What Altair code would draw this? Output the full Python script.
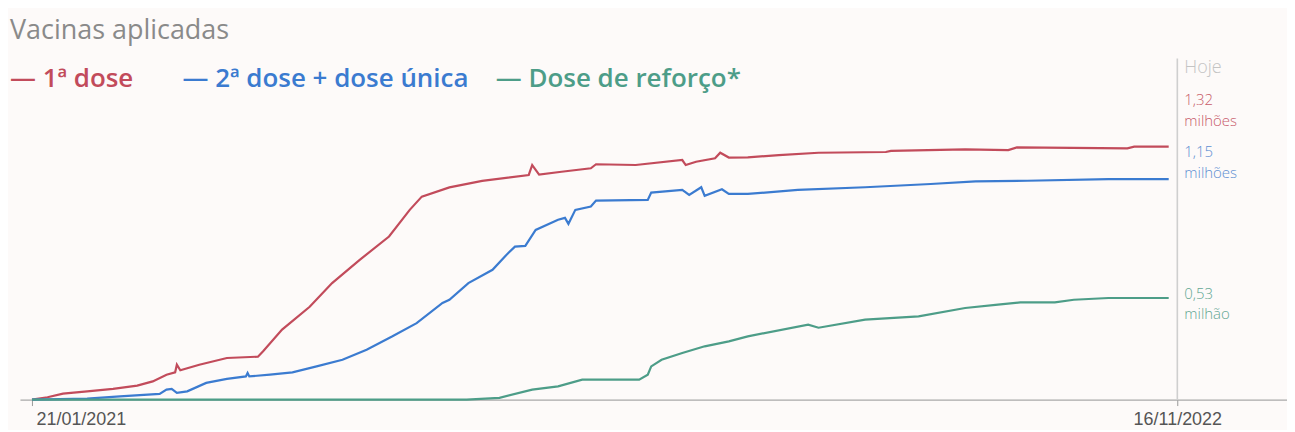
import altair as alt
import pandas as pd

# ---------------- data (values in millions) ----------------
red_dates = ["2021-01-21", "2021-01-30", "2021-02-08", "2021-02-22", "2021-03-09", "2021-03-23",
             "2021-04-01", "2021-04-09", "2021-04-14", "2021-04-15", "2021-04-17", "2021-04-28",
             "2021-05-14", "2021-06-01", "2021-06-04", "2021-06-15", "2021-07-01", "2021-07-14",
             "2021-07-30", "2021-08-16", "2021-08-28", "2021-09-04", "2021-09-20", "2021-10-09",
             "2021-11-05", "2021-11-07", "2021-11-11", "2021-11-24", "2021-12-11", "2021-12-14",
             "2022-01-06", "2022-02-02", "2022-02-04", "2022-02-10", "2022-02-21", "2022-02-24",
             "2022-03-01", "2022-03-12", "2022-03-30", "2022-04-22", "2022-05-31", "2022-06-03",
             "2022-07-16", "2022-08-10", "2022-08-15", "2022-10-18", "2022-10-22", "2022-11-11"]
red_vals = [0.000, 0.012, 0.031, 0.043, 0.056, 0.073,
            0.095, 0.130, 0.142, 0.182, 0.153, 0.182,
            0.217, 0.224, 0.252, 0.365, 0.484, 0.608,
            0.729, 0.851, 0.990, 1.059, 1.107, 1.141,
            1.172, 1.224, 1.174, 1.189, 1.207, 1.228,
            1.224, 1.250, 1.224, 1.241, 1.259, 1.288,
            1.263, 1.264, 1.276, 1.288, 1.292, 1.298,
            1.306, 1.302, 1.316, 1.311, 1.320, 1.320]

blue_dates = ["2021-01-21", "2021-02-22", "2021-03-13", "2021-04-05", "2021-04-09", "2021-04-12",
              "2021-04-15", "2021-04-21", "2021-05-02", "2021-05-14", "2021-05-25", "2021-05-26",
              "2021-05-27", "2021-06-08", "2021-06-21", "2021-07-05", "2021-07-20", "2021-08-03",
              "2021-08-18", "2021-09-01", "2021-09-16", "2021-09-20", "2021-10-01", "2021-10-15",
              "2021-10-24", "2021-10-28", "2021-11-03", "2021-11-09", "2021-11-22", "2021-11-26",
              "2021-11-28", "2021-12-02", "2021-12-11", "2021-12-14", "2022-01-13", "2022-01-15",
              "2022-02-02", "2022-02-06", "2022-02-13", "2022-02-15", "2022-02-25", "2022-03-01",
              "2022-03-12", "2022-04-10", "2022-05-19", "2022-06-26", "2022-07-22", "2022-08-21",
              "2022-10-07", "2022-11-11"]
blue_vals = [0.000, 0.005, 0.017, 0.030, 0.052, 0.056,
             0.035, 0.043, 0.087, 0.108, 0.121, 0.139,
             0.121, 0.130, 0.142, 0.173, 0.208, 0.260,
             0.330, 0.399, 0.504, 0.521, 0.608, 0.677,
             0.764, 0.798, 0.802, 0.885, 0.938, 0.948,
             0.917, 0.990, 1.007, 1.038, 1.042, 1.080,
             1.094, 1.068, 1.108, 1.063, 1.097, 1.073,
             1.073, 1.094, 1.108, 1.125, 1.139, 1.142,
             1.150, 1.150]

green_dates = ["2021-01-21", "2021-09-30", "2021-10-19", "2021-11-07", "2021-11-22", "2021-12-06",
               "2022-01-08", "2022-01-13", "2022-01-15", "2022-01-21", "2022-02-02", "2022-02-15",
               "2022-03-01", "2022-03-12", "2022-04-16", "2022-04-22", "2022-05-19", "2022-06-19",
               "2022-07-16", "2022-08-04", "2022-08-17", "2022-09-06", "2022-09-17", "2022-10-07",
               "2022-11-11"]
green_vals = [0.000, 0.000, 0.009, 0.052, 0.069, 0.104,
              0.104, 0.130, 0.173, 0.208, 0.243, 0.278,
              0.304, 0.330, 0.391, 0.375, 0.417, 0.434,
              0.478, 0.495, 0.507, 0.507, 0.521, 0.530,
              0.530]

series_names = ["1ª dose", "2ª dose + dose única", "Dose de reforço*"]
unit_names = ["milhões", "milhões", "milhão"]
line_colors = ["#c24b5b", "#3b7bd0", "#4d9d88"]
label_colors = ["#c85a6a", "#5d8fd2", "#63a793"]
tick_dates = ["2021-01-21", "2022-11-16"]
hoje_date = "2022-11-16"

# ---------------- layout ----------------
W, H = 1270, 340
YMAX = 1.77
FONT = "Open Sans"

rows = []
for name, ds, vs in zip(series_names, [red_dates, blue_dates, green_dates],
                        [red_vals, blue_vals, green_vals]):
    for d, v in zip(ds, vs):
        rows.append({"date": d, "value": v, "serie": name})
df = pd.DataFrame(rows)

xscale = alt.Scale(type="utc",
                   domain=[alt.DateTime(year=2021, month=1, date=14, hours=1, utc=True),
                           alt.DateTime(year=2023, month=1, date=18, hours=14, utc=True)])
yscale = alt.Scale(domain=[0, YMAX], nice=False, zero=True)

tick_vals = [alt.DateTime(year=int(t[:4]), month=int(t[5:7]), date=int(t[8:]), utc=True) for t in tick_dates]

lines = alt.Chart(df).mark_line(strokeWidth=2.2, interpolate="linear").encode(
    x=alt.X("date:T", scale=xscale,
            axis=alt.Axis(values=tick_vals, labelExpr="utcFormat(datum.value, '%d/%m/%Y')",
                          title=None, grid=False, domainColor="#a8a8a8", domainWidth=1.2,
                          tickColor="#999999", tickSize=6, labelColor="#555555",
                          labelFont="Liberation Sans", labelFontSize=18, labelPadding=5,
                          labelFlush=20, labelFlushOffset=-4)),
    y=alt.Y("value:Q", scale=yscale, axis=None),
    color=alt.Color("serie:N", scale=alt.Scale(domain=series_names, range=line_colors), legend=None),
    order=alt.Order("date:T"),
)

hoje_df = pd.DataFrame({"date": [hoje_date], "txt": ["Hoje"]})
rule = alt.Chart(hoje_df).mark_rule(color="#cfcfcf", strokeWidth=1.6).encode(
    x=alt.X("date:T", scale=xscale), y=alt.value(-2), y2=alt.value(H))
hoje_txt = alt.Chart(hoje_df).mark_text(align="left", baseline="middle", dx=7, font=FONT,
                                         fontSize=18, fontWeight=300, color="#c4c4c4").encode(
    x=alt.X("date:T", scale=xscale), y=alt.value(8), text="txt:N")

layers = [rule, lines, hoje_txt]

# end labels (two-line text: number + unit)
end_vals = [red_vals[-1], blue_vals[-1], green_vals[-1]]
label_top = [33, 85, 227]
for v, unit, col, ly in zip(end_vals, unit_names, label_colors, label_top):
    ldf = pd.DataFrame({"date": [hoje_date],
                        "lbl": [f"{v:.2f}".replace(".", ",") + "\n" + unit]})
    layers.append(alt.Chart(ldf).mark_text(align="left", baseline="top", dx=7, font=FONT,
                                           fontSize=15, fontWeight=300, color=col,
                                           lineBreak="\n", lineHeight=20.5).encode(
        x=alt.X("date:T", scale=xscale), y=alt.value(ly), text="lbl:N"))

# title and legend text
title_df = pd.DataFrame({"t": ["Vacinas aplicadas"]})
layers.append(alt.Chart(title_df).mark_text(align="left", baseline="alphabetic", font=FONT,
                                            fontSize=27, color="#8a8a8a").encode(
    x=alt.value(-10), y=alt.value(-21), text="t:N"))

leg_x = [-10, 163, 477]
for name, col, lx in zip(series_names, line_colors, leg_x):
    ldf = pd.DataFrame({"t": ["— " + name]})
    layers.append(alt.Chart(ldf).mark_text(align="left", baseline="alphabetic", font=FONT,
                                           fontSize=26, fontWeight=600, color=col).encode(
        x=alt.value(lx), y=alt.value(27), text="t:N"))

chart = alt.layer(*layers).properties(
    width=W, height=H,
    autosize=alt.AutoSizeParams(type="none"),
    padding={"left": 12, "top": 52, "right": 0, "bottom": 30},
    background="#fdfaf9",
).configure_view(stroke=None)

chart.save("out.html", embed_options={"renderer": "svg", "actions": False})
